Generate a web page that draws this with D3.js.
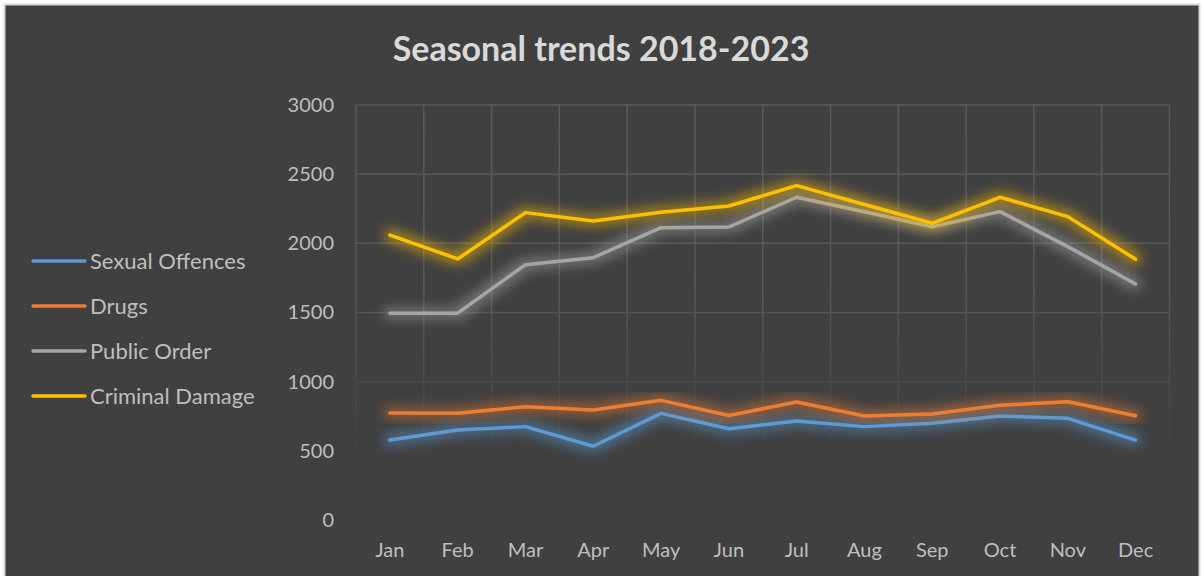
<!DOCTYPE html>
<html>
<head>
<meta charset="utf-8">
<script src="https://d3js.org/d3.v7.min.js"></script>
<style>
body { margin: 0; background: #fff; }
svg { display: block; }
text { font-family: Lato, 'Open Sans', sans-serif; }
</style>
</head>
<body>
<svg></svg>
<script>

var width = 1203;
var height = 576;

// chart data
var months = ["Jan", "Feb", "Mar", "Apr", "May", "Jun", "Jul", "Aug", "Sep", "Oct", "Nov", "Dec"];
var seriesNames = ["Sexual Offences", "Drugs", "Public Order", "Criminal Damage"];
var seriesColors = ["#5b9bd5", "#ed7d31", "#a5a5a5", "#ffc000"];
var sexualOffences = [578, 651, 675, 533, 771, 660, 716, 675, 699, 752, 735, 578];
var drugs = [773, 771, 819, 795, 865, 756, 853, 752, 766, 829, 855, 754];
var publicOrder = [1495, 1495, 1846, 1896, 2113, 2118, 2333, 2228, 2120, 2229, 1976, 1706];
var criminalDamage = [2060, 1887, 2222, 2161, 2225, 2270, 2417, 2281, 2145, 2333, 2193, 1885];
var yTicks = [0, 500, 1000, 1500, 2000, 2500, 3000];

var seriesValues = [sexualOffences, drugs, publicOrder, criminalDamage];

var svg = d3.select("svg").attr("width", width).attr("height", height);

// page frame
svg.append("rect").attr("x", 0).attr("y", 0).attr("width", width).attr("height", height).style("fill", "#fff");
svg.append("rect").attr("x", 4.5).attr("y", 4.5).attr("width", 1195).attr("height", 600)
.style("fill", "#404040").style("stroke", "#d9d9d9").style("stroke-width", 2);

var xScale = d3.scaleBand().domain(months).range([356, 1169.5]);
var yScale = d3.scaleLinear().domain([0, 3000]).range([520, 105]);

var defs = svg.append("defs");

// gridlines fade out towards the bottom of the plot
var grad = defs.append("linearGradient").attr("id", "fade")
.attr("gradientUnits", "userSpaceOnUse")
.attr("x1", 0).attr("y1", yScale(3000)).attr("x2", 0).attr("y2", yScale(0));
[[0, 1], [0.45, 0.95], [0.67, 0.4], [0.83, 0.1], [1, 0]].forEach(function (s) {
	grad.append("stop").attr("offset", s[0]).attr("stop-color", "#fff").attr("stop-opacity", s[1]);
});
defs.append("mask").attr("id", "gridMask").attr("maskUnits", "userSpaceOnUse")
.attr("x", 0).attr("y", 0).attr("width", width).attr("height", height)
.append("rect").attr("x", 0).attr("y", 0).attr("width", width).attr("height", height)
.style("fill", "url(#fade)");

// soft glow round each line
var glow = defs.append("filter").attr("id", "glow")
.attr("x", "-10%").attr("y", "-50%").attr("width", "120%").attr("height", "200%");
glow.append("feMorphology").attr("in", "SourceGraphic").attr("operator", "dilate").attr("radius", 4).attr("result", "fat");
glow.append("feGaussianBlur").attr("in", "fat").attr("stdDeviation", 6).attr("result", "blur");
glow.append("feComponentTransfer").attr("in", "blur").attr("result", "soft")
.append("feFuncA").attr("type", "linear").attr("slope", 0.5);
var merge = glow.append("feMerge");
merge.append("feMergeNode").attr("in", "soft");
merge.append("feMergeNode").attr("in", "SourceGraphic");

var grid = svg.append("g").attr("mask", "url(#gridMask)");
grid.selectAll("line.h").data(yTicks).enter().append("line")
.attr("x1", xScale.range()[0]).attr("x2", xScale.range()[1])
.attr("y1", function (d) { return yScale(d); }).attr("y2", function (d) { return yScale(d); })
.style("stroke", "#5a5a5a").style("stroke-width", 1.5);
var bounds = months.map(function (m) { return xScale(m); }).concat([xScale.range()[1]]);
grid.selectAll("line.v").data(bounds).enter().append("line")
.attr("x1", function (d) { return d; }).attr("x2", function (d) { return d; })
.attr("y1", yScale(3000)).attr("y2", yScale(0))
.style("stroke", "#5a5a5a").style("stroke-width", 1.5);

// axes, drawn by d3 and then stripped of domain and ticks
var yAxis = svg.append("g").attr("transform", "translate(340,0)")
.call(d3.axisLeft(yScale).tickValues(yTicks).tickFormat(d3.format("d")).tickSize(0).tickPadding(6));
var xAxis = svg.append("g").attr("transform", "translate(0,538)")
.call(d3.axisBottom(xScale).tickSize(0).tickPadding(5));
[yAxis, xAxis].forEach(function (a) {
	a.select(".domain").remove();
	a.selectAll("text").style("font-family", "Lato, 'Open Sans', sans-serif")
	.style("font-size", "20px").style("fill", "#bfbfbf");
});

// lines
var line = d3.line()
.x(function (d, i) { return xScale(months[i]) + xScale.bandwidth() / 2; })
.y(function (d) { return yScale(d); });

svg.selectAll("path.series").data(seriesValues).enter().append("path")
.attr("class", "series")
.attr("d", line)
.attr("filter", "url(#glow)")
.style("fill", "none")
.style("stroke", function (d, i) { return seriesColors[i]; })
.style("stroke-width", 3.5)
.style("stroke-linejoin", "round")
.style("stroke-linecap", "round");

// legend
var legend = svg.selectAll("g.legend").data(seriesNames).enter().append("g")
.attr("transform", function (d, i) { return "translate(0," + (261 + i * 45) + ")"; });
legend.append("line").attr("x1", 33).attr("x2", 85).attr("y1", 0).attr("y2", 0)
.style("stroke", function (d, i) { return seriesColors[i]; })
.style("stroke-width", 3.5).style("stroke-linecap", "round");
legend.append("text").attr("x", 90).attr("dy", "0.35em")
.style("font-size", "22px").style("fill", "#bfbfbf")
.text(function (d) { return d; });

// title
svg.append("text").attr("x", 601).attr("y", 61).attr("text-anchor", "middle")
.style("font-size", "34px").style("font-weight", "bold").style("fill", "#d9d9d9")
.text("Seasonal trends 2018-2023");

</script>
</body>
</html>
